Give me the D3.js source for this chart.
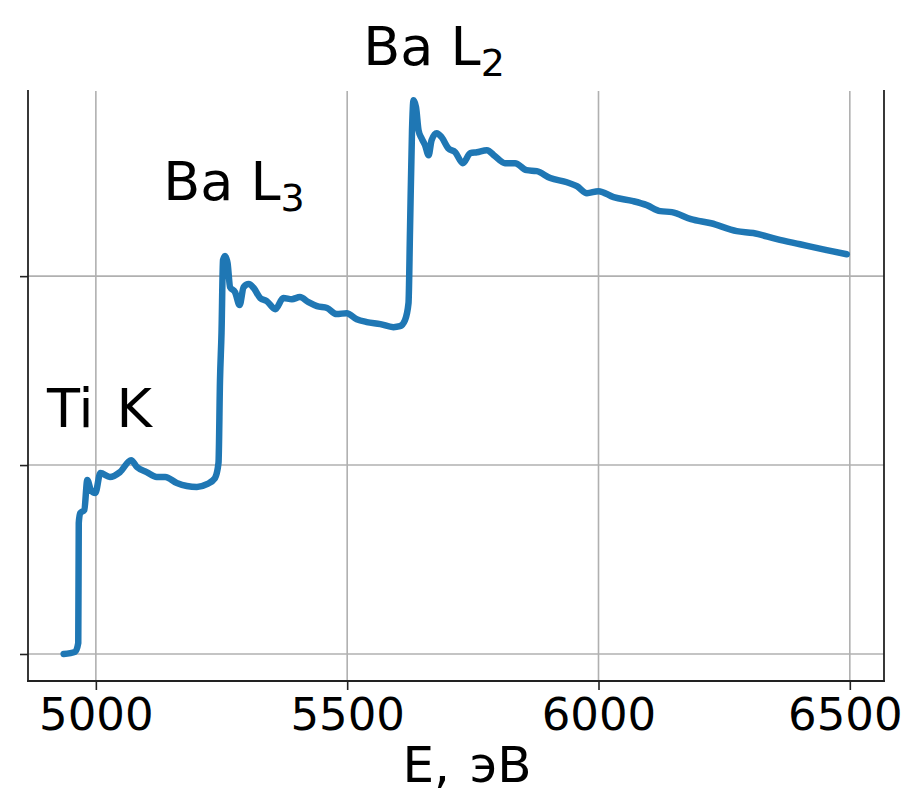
<!DOCTYPE html>
<html>
<head>
<meta charset="utf-8">
<script src="https://cdn.jsdelivr.net/npm/d3@7"></script>
<style>
  html, body { margin: 0; padding: 0; background: #fff; overflow: hidden; }
  svg { display: block; }
  text { font-family: "DejaVu Sans", sans-serif; fill: #000; }
</style>
</head>
<body>
<svg id="chart"></svg>
<script>
  // energy (eV) and absorption (arb. units)
  const energy = [4936, 4959, 4965, 4966, 4969, 4977, 4983, 4990, 4999, 5009, 5028, 5048, 5070, 5082,
    5101, 5121, 5138, 5161, 5181, 5201, 5221, 5237, 5244, 5247, 5250, 5253, 5257, 5262, 5267, 5277,
    5286, 5294, 5304, 5314, 5327, 5340, 5357, 5373, 5390, 5406, 5423, 5440, 5460, 5479, 5499, 5519,
    5539, 5566, 5592, 5605, 5615, 5622, 5625, 5629, 5632, 5637, 5642, 5648, 5655, 5662, 5668, 5678,
    5688, 5701, 5715, 5730, 5745, 5758, 5778, 5794, 5814, 5834, 5857, 5877, 5904, 5937, 5957, 5977,
    6000, 6030, 6069, 6096, 6123, 6146, 6184, 6224, 6275, 6308, 6355, 6401, 6454, 6494];
  const absorb = [0.000, 0.012, 0.058, 0.693, 0.746, 0.762, 0.921, 0.868, 0.852, 0.958, 0.937, 0.963, 1.026, 0.989,
    0.963, 0.937, 0.937, 0.905, 0.889, 0.884, 0.899, 0.931, 1.011, 1.450, 1.700, 2.085, 2.106, 2.069, 1.942, 1.915,
    1.847, 1.942, 1.958, 1.937, 1.884, 1.868, 1.825, 1.884, 1.878, 1.889, 1.862, 1.841, 1.831, 1.799, 1.804, 1.772,
    1.757, 1.746, 1.730, 1.735, 1.767, 1.857, 2.243, 2.772, 2.931, 2.894, 2.772, 2.730, 2.693, 2.640, 2.720, 2.757,
    2.735, 2.677, 2.656, 2.598, 2.651, 2.656, 2.667, 2.635, 2.598, 2.598, 2.561, 2.556, 2.519, 2.497, 2.476, 2.439,
    2.450, 2.418, 2.397, 2.376, 2.344, 2.339, 2.302, 2.280, 2.238, 2.228, 2.196, 2.169, 2.138, 2.116];

  const xTicks = [5000, 5500, 6000, 6500];
  const yTicks = [0, 1, 2];

  // edge labels: name, subscript, energy, height
  const edgeNames = ['Ti K', 'Ba L', 'Ba L'];
  const edgeSubs = ['', '3', '2'];
  const edgeE = [4903, 5134, 5532];
  const edgeY = [1.201, 2.402, 3.116];

  const width = 908, height = 796;
  const margin = { top: 91, right: 24, bottom: 115, left: 28 };
  const innerWidth = width - margin.left - margin.right;
  const innerHeight = height - margin.top - margin.bottom;

  const svg = d3.select('#chart')
      .attr('width', width)
      .attr('height', height);

  const g = svg.append('g')
      .attr('transform', `translate(${margin.left},${margin.top})`);

  const xScale = d3.scaleLinear().domain([4865, 6568]).range([0, innerWidth]);
  const yScale = d3.scaleLinear().domain([-0.143, 2.98]).range([innerHeight, 0]);

  // grid
  g.selectAll('.xgrid').data(xTicks)
    .enter().append('line')
      .attr('x1', d => xScale(d)).attr('x2', d => xScale(d))
      .attr('y1', 0).attr('y2', innerHeight)
      .attr('stroke', '#b0b0b0').attr('stroke-width', 1.6);
  g.selectAll('.ygrid').data(yTicks)
    .enter().append('line')
      .attr('y1', d => yScale(d)).attr('y2', d => yScale(d))
      .attr('x1', 0).attr('x2', innerWidth)
      .attr('stroke', '#b0b0b0').attr('stroke-width', 1.6);

  // x axis
  const xAxisG = g.append('g')
      .attr('transform', `translate(0,${innerHeight})`)
      .call(d3.axisBottom(xScale).tickValues(xTicks).tickSize(9).tickPadding(8).tickFormat(d3.format('d')));
  xAxisG.select('.domain').remove();
  xAxisG.selectAll('.tick line').attr('stroke', '#222').attr('stroke-width', 1.6);
  xAxisG.selectAll('.tick text')
      .attr('font-size', 45).attr('font-family', '"DejaVu Sans", sans-serif')
      .attr('fill', '#000');
  // last label sits a bit left so it stays inside the page
  xAxisG.selectAll('.tick text').filter(d => d === 6500).attr('dx', -5);

  // y axis, ticks only (no labels in the original)
  const yAxisG = g.append('g')
      .call(d3.axisLeft(yScale).tickValues(yTicks).tickSize(8));
  yAxisG.select('.domain').remove();
  yAxisG.selectAll('.tick text').remove();
  yAxisG.selectAll('.tick line').attr('stroke', '#222').attr('stroke-width', 1.6);

  // spines: left, right, bottom
  const spine = [[0, 0, 0, innerHeight], [innerWidth, 0, innerWidth, innerHeight], [0, innerHeight, innerWidth, innerHeight]];
  g.selectAll('.spine').data(spine)
    .enter().append('line')
      .attr('x1', d => d[0]).attr('y1', d => d[1])
      .attr('x2', d => d[2]).attr('y2', d => d[3])
      .attr('stroke', '#222').attr('stroke-width', 1.8)
      .attr('stroke-linecap', 'square');

  // spectrum
  const points = energy.map((e, i) => [e, absorb[i]]);
  const lineGen = d3.line()
      .x(d => xScale(d[0]))
      .y(d => yScale(d[1]))
      .curve(d3.curveMonotoneX);
  g.append('path')
      .datum(points)
      .attr('d', lineGen)
      .attr('fill', 'none')
      .attr('stroke', '#1f77b4')
      .attr('stroke-width', 6.5)
      .attr('stroke-linejoin', 'round')
      .attr('stroke-linecap', 'round');

  // edge annotations
  edgeNames.forEach((name, i) => {
    const t = g.append('text')
        .attr('x', xScale(edgeE[i]))
        .attr('y', yScale(edgeY[i]))
        .attr('font-size', 54)
        .attr('word-spacing', i === 0 ? 6 : 0)
        .text(name);
    if (edgeSubs[i]) {
      t.append('tspan')
          .attr('font-size', 38)
          .attr('dy', 11)
          .text(edgeSubs[i]);
    }
  });

  // x label
  svg.append('text')
      .attr('x', margin.left + innerWidth / 2 + 11)
      .attr('y', 782)
      .attr('text-anchor', 'middle')
      .attr('font-size', 50)
      .attr('word-spacing', 4)
      .text('E, эВ');
</script>
</body>
</html>
